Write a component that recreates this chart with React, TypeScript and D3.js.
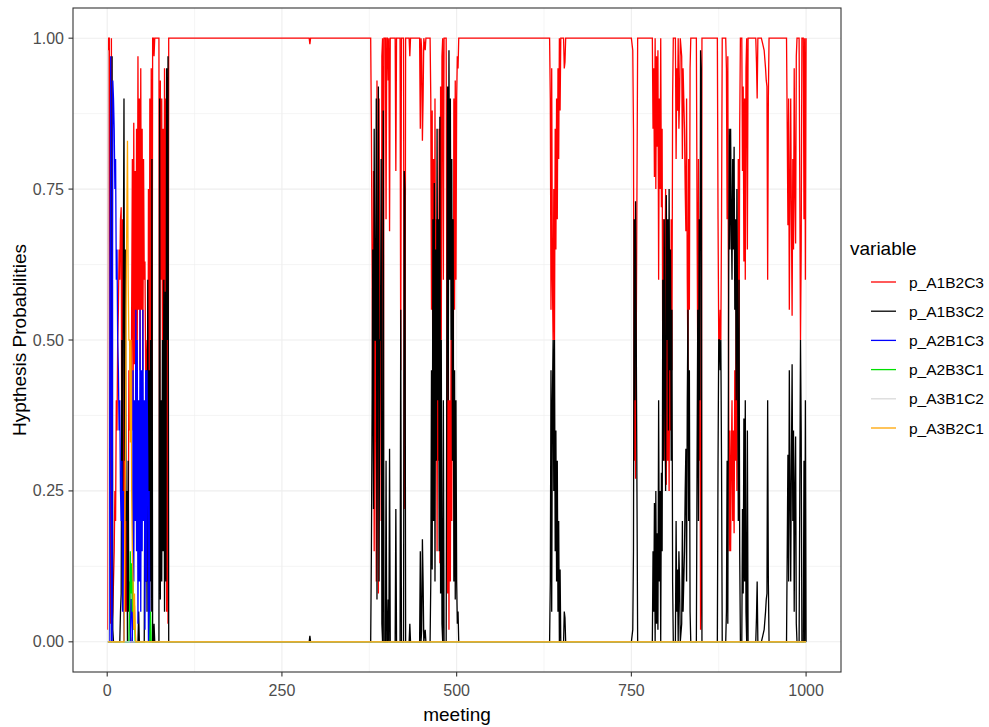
import React from "react";
import * as d3 from "d3";

// ---- Data ----
const seriesNames = ["p_A1B2C3", "p_A1B3C2", "p_A2B1C3", "p_A2B3C1", "p_A3B1C2", "p_A3B2C1"];
const seriesColors = ["#FF0000", "#000000", "#0000FF", "#00E000", "#DADADA", "#FFA500"];
const xTicks = [0, 250, 500, 750, 1000];
const xMinorTicks = [125, 375, 625, 875];
const yTicks = [0, 0.25, 0.5, 0.75, 1];
const yMinorTicks = [0.125, 0.375, 0.625, 0.875];
const yTickLabels = ["0.00", "0.25", "0.50", "0.75", "1.00"];
const meetingRange = [1, 1000];

// early meetings: [meeting, A1B2C3, A1B3C2, A2B1C3, A2B3C1, A3B1C2, A3B2C1]
const earlyRows: number[][] = [
  [1, 0.02, 0, 0, 0, 0.98, 0],
  [2, 1, 0, 0, 0, 0, 0],
  [3, 1, 0, 0, 0, 0, 0],
  [4, 0.4, 0, 0.6, 0, 0, 0],
  [5, 0.03, 0, 0.97, 0, 0, 0],
  [6, 1, 0, 0, 0, 0, 0],
  [7, 0.03, 0.97, 0, 0, 0, 0],
  [8, 0.05, 0.02, 0.93, 0, 0, 0],
  [9, 0.1, 0, 0.9, 0, 0, 0],
  [10, 0.15, 0, 0.85, 0, 0, 0],
  [11, 0.25, 0, 0.75, 0, 0, 0],
  [12, 0.2, 0, 0.8, 0, 0, 0],
  [13, 0.4, 0, 0.6, 0, 0, 0],
  [14, 0.35, 0, 0.65, 0, 0, 0],
  [15, 0.5, 0, 0.5, 0, 0, 0],
  [16, 0.55, 0, 0.45, 0, 0, 0],
  [17, 0.65, 0, 0.35, 0, 0, 0],
  [18, 0.6, 0, 0.4, 0, 0, 0],
  [19, 0.7, 0.05, 0.25, 0, 0, 0],
  [20, 0.72, 0.08, 0.2, 0, 0, 0],
  [21, 0.2, 0.5, 0.3, 0, 0, 0],
  [22, 0.7, 0.25, 0.05, 0, 0, 0],
  [23, 0.15, 0.6, 0.25, 0, 0, 0],
  [24, 0.1, 0.9, 0, 0, 0, 0],
  [25, 0.55, 0.3, 0, 0, 0, 0.15],
  [26, 0.05, 0.65, 0, 0, 0, 0.3],
  [27, 0.25, 0.2, 0, 0, 0, 0.55],
  [28, 0.05, 0.25, 0, 0, 0, 0.7],
  [29, 0.17, 0, 0, 0, 0, 0.83],
  [30, 0.1, 0.3, 0, 0, 0, 0.6],
  [31, 0.45, 0.05, 0, 0, 0, 0.5],
  [32, 0.35, 0.1, 0, 0.05, 0, 0.5],
  [33, 0.5, 0.02, 0, 0.15, 0, 0.33],
  [34, 0.35, 0, 0.07, 0.08, 0, 0.5],
  [35, 0.55, 0, 0.07, 0.13, 0, 0.25],
  [36, 0.8, 0, 0, 0.05, 0, 0.15],
  [37, 0.35, 0, 0.45, 0.1, 0, 0.1],
  [38, 0.86, 0, 0.1, 0.02, 0, 0.02],
  [39, 0.46, 0, 0.4, 0.06, 0, 0.08],
  [40, 0.78, 0, 0.2, 0, 0, 0.02],
  [41, 0.45, 0, 0.55, 0, 0, 0],
  [42, 0.85, 0, 0.15, 0, 0, 0],
  [43, 0.5, 0, 0.5, 0, 0, 0],
  [44, 0.97, 0, 0.03, 0, 0, 0],
  [45, 0.55, 0.05, 0.4, 0, 0, 0],
  [46, 0.9, 0, 0.1, 0, 0, 0],
  [47, 0.45, 0, 0.55, 0, 0, 0],
  [48, 0.95, 0, 0.05, 0, 0, 0],
  [49, 0.55, 0, 0.45, 0, 0, 0],
  [50, 0.85, 0, 0.15, 0, 0, 0],
  [51, 0.45, 0, 0.55, 0, 0, 0],
  [52, 0.8, 0, 0.2, 0, 0, 0],
  [53, 0.6, 0, 0.4, 0, 0, 0],
  [54, 0.63, 0.35, 0.02, 0, 0, 0],
  [55, 0.45, 0.1, 0.45, 0, 0, 0],
  [56, 0.45, 0.45, 0.1, 0, 0, 0],
  [57, 0.5, 0.05, 0.45, 0, 0, 0],
  [58, 0.1, 0.6, 0.3, 0, 0, 0],
  [59, 0.75, 0.25, 0, 0, 0, 0],
  [60, 0.3, 0.45, 0.25, 0, 0, 0],
  [61, 0.9, 0.1, 0, 0, 0, 0],
  [62, 0.45, 0.5, 0, 0.05, 0, 0],
  [63, 0.95, 0.05, 0, 0, 0, 0],
  [64, 0.2, 0.8, 0, 0, 0, 0],
  [65, 1, 0, 0, 0, 0, 0],
  [66, 1, 0, 0, 0, 0, 0],
  [67, 0.97, 0.03, 0, 0, 0, 0],
  [68, 1, 0, 0, 0, 0, 0],
  [74, 1, 0, 0, 0, 0, 0],
  [75, 0.1, 0.9, 0, 0, 0, 0],
  [76, 0.93, 0.07, 0, 0, 0, 0],
  [77, 0.6, 0.4, 0, 0, 0, 0],
  [78, 0.9, 0.1, 0, 0, 0, 0],
  [79, 0.5, 0.5, 0, 0, 0, 0],
  [80, 0.85, 0.15, 0, 0, 0, 0],
  [81, 0.4, 0.6, 0, 0, 0, 0],
  [82, 0.95, 0.05, 0, 0, 0, 0],
  [83, 0.42, 0.58, 0, 0, 0, 0],
  [84, 0.9, 0.1, 0, 0, 0, 0],
  [85, 0.05, 0.95, 0, 0, 0, 0],
  [86, 0.5, 0.5, 0, 0, 0, 0],
  [87, 0.03, 0.97, 0, 0, 0, 0],
  [88, 1, 0, 0, 0, 0, 0],
];

// later meetings: [meeting, A1B2C3, A1B3C2] (all other hypotheses stay at 0)
const laterRows: number[][] = [
  [100, 1, 0], [289, 1, 0], [290, 0.99, 0.01], [291, 1, 0], [377, 1, 0],
  [378, 0.85, 0.15], [379, 0.62, 0.38], [380, 0.35, 0.65], [381, 0.78, 0.22], [382, 0.15, 0.85],
  [383, 0.5, 0.5], [384, 0.5, 0.5], [385, 0.1, 0.9], [386, 0.93, 0.07], [387, 0.4, 0.6],
  [388, 0.08, 0.92], [389, 0.9, 0.1], [390, 0.5, 0.5], [391, 0.5, 0.5], [392, 0.2, 0.8],
  [393, 0.97, 0.03], [394, 1, 0], [395, 0.12, 0.88], [396, 1, 0], [398, 1, 0],
  [399, 0.7, 0.3], [400, 1, 0], [401, 1, 0], [402, 0.93, 0.07], [403, 1, 0],
  [404, 0.68, 0.32], [405, 1, 0], [412, 1, 0], [413, 0.78, 0.22], [414, 1, 0],
  [419, 1, 0], [420, 0.45, 0.55], [421, 1, 0], [424, 1, 0], [425, 0.22, 0.78],
  [426, 0.25, 0.75], [427, 1, 0], [432, 1, 0], [433, 0.97, 0.03], [434, 1, 0],
  [447, 1, 0], [448, 0.85, 0.15], [449, 1, 0], [450, 0.98, 0.02], [451, 0.83, 0.17],
  [452, 0.9, 0.1], [453, 1, 0], [455, 0.98, 0.02], [456, 1, 0], [462, 1, 0],
  [463, 0.9, 0.1], [464, 0.55, 0.45], [465, 0.88, 0.12], [466, 0.3, 0.7], [467, 0.8, 0.2],
  [468, 0.24, 0.76], [469, 0.9, 0.1], [470, 0.35, 0.65], [471, 0.7, 0.3], [472, 0.15, 0.85],
  [473, 0.6, 0.4], [474, 0.3, 0.7], [475, 0.85, 0.15], [476, 0.13, 0.87], [477, 0.92, 0.08],
  [478, 0.5, 0.5], [479, 0.97, 0.03], [480, 1, 0], [481, 0.6, 0.4], [482, 1, 0],
  [485, 1, 0], [486, 0.5, 0.5], [487, 0.08, 0.92], [488, 0.6, 0.4], [489, 0.02, 0.98],
  [490, 0.4, 0.6], [491, 0.1, 0.9], [492, 0.5, 0.5], [493, 0.2, 0.8], [494, 0.7, 0.3],
  [495, 0.3, 0.7], [496, 0.9, 0.1], [497, 0.55, 0.45], [498, 0.93, 0.07], [499, 0.6, 0.4],
  [500, 0.9, 0.1], [501, 0.97, 0.03], [502, 0.95, 0.05], [503, 1, 0],
  [633, 1, 0], [634, 0.9, 0.1], [635, 0.55, 0.45], [636, 0.95, 0.05], [637, 0.6, 0.4],
  [638, 0.5, 0.5], [639, 0.75, 0.25], [640, 0.5, 0.5], [641, 0.85, 0.15], [642, 0.65, 0.35],
  [643, 0.9, 0.1], [644, 0.7, 0.3], [645, 0.95, 0.05], [646, 0.8, 0.2], [647, 1, 0],
  [648, 0.88, 0.12], [649, 1, 0], [653, 1, 0], [654, 0.95, 0.05], [655, 0.96, 0.04], [656, 1, 0],
  [750, 1, 0], [752, 0.98, 0.02], [753, 0.85, 0.15], [754, 0.3, 0.7], [755, 0.6, 0.4],
  [756, 0.27, 0.73], [757, 0.5, 0.5], [758, 0.75, 0.25], [759, 1, 0], [780, 1, 0],
  [781, 0.85, 0.15], [782, 0.95, 0.05], [783, 0.77, 0.23], [784, 1, 0], [785, 0.75, 0.25],
  [786, 0.97, 0.03], [787, 0.82, 0.18], [788, 0.98, 0.02], [789, 0.6, 0.4], [790, 0.9, 0.1],
  [791, 0.75, 0.25], [792, 1, 0], [793, 0.72, 0.28], [794, 0.85, 0.15], [795, 0.4, 0.6],
  [796, 0.7, 0.3], [797, 0.3, 0.7], [798, 0.6, 0.4], [799, 0.75, 0.25], [800, 0.26, 0.74],
  [801, 0.5, 0.5], [802, 0.3, 0.7], [803, 0.65, 0.35], [804, 0.25, 0.75], [805, 0.55, 0.45],
  [806, 0.35, 0.65], [807, 0.7, 0.3], [808, 0.45, 0.55], [809, 0.9, 0.1], [810, 1, 0],
  [813, 1, 0], [814, 0.8, 0.2], [815, 0.95, 0.05], [816, 0.88, 0.12], [817, 1, 0],
  [818, 0.85, 0.15], [819, 0.9, 0.1], [820, 1, 0], [822, 0.97, 0.03], [823, 0.8, 0.2],
  [824, 0.95, 0.05], [825, 0.9, 0.1], [826, 0.85, 0.15], [827, 0.75, 0.25], [828, 0.68, 0.32],
  [829, 0.9, 0.1], [830, 0.6, 0.4], [831, 0.45, 0.55], [832, 0.8, 0.2], [833, 0.55, 0.45],
  [834, 0.95, 0.05], [835, 1, 0], [843, 1, 0], [844, 0.7, 0.3], [845, 0.45, 0.55],
  [846, 0.8, 0.2], [847, 0.3, 0.7], [848, 0.6, 0.4], [849, 0.02, 0.98], [850, 0.05, 0.95],
  [851, 1, 0], [873, 1, 0], [874, 0.7, 0.3], [875, 0.5, 0.5], [876, 0.5, 0.5],
  [877, 0.55, 0.45], [878, 0.5, 0.5], [879, 0.7, 0.3], [880, 1, 0], [885, 1, 0],
  [886, 0.95, 0.05], [887, 0.7, 0.3], [888, 0.97, 0.03], [889, 0.5, 0.5], [890, 0.15, 0.85],
  [891, 0.35, 0.65], [892, 0.15, 0.85], [893, 0.3, 0.7], [894, 0.4, 0.6], [895, 0.2, 0.8],
  [896, 0.35, 0.65], [897, 0.18, 0.82], [898, 0.45, 0.55], [899, 0.3, 0.7], [900, 0.6, 0.4],
  [901, 0.25, 0.75], [902, 0.5, 0.5], [903, 0.8, 0.2], [904, 0.4, 0.6], [905, 0.85, 0.15],
  [906, 1, 0], [908, 1, 0], [909, 0.78, 0.22], [910, 0.92, 0.08], [911, 0.63, 0.37],
  [912, 0.9, 0.1], [913, 0.6, 0.4], [914, 0.95, 0.05], [915, 1, 0], [916, 0.65, 0.35],
  [917, 1, 0], [928, 1, 0], [929, 0.96, 0.04], [930, 0.9, 0.1], [931, 1, 0],
  [936, 1, 0], [938, 0.99, 0.01], [940, 0.98, 0.02], [942, 0.95, 0.05], [943, 0.93, 0.07],
  [944, 0.92, 0.08], [945, 0.6, 0.4], [946, 0.9, 0.1], [947, 1, 0], [972, 1, 0],
  [973, 0.85, 0.15], [974, 0.69, 0.31], [975, 0.9, 0.1], [976, 0.55, 0.45], [977, 0.75, 0.25],
  [978, 0.9, 0.1], [979, 0.7, 0.3], [980, 0.54, 0.46], [981, 0.8, 0.2], [982, 0.65, 0.35],
  [983, 0.95, 0.05], [984, 0.75, 0.25], [985, 0.66, 0.34], [986, 0.97, 0.03], [987, 1, 0],
  [990, 1, 0], [991, 0.75, 0.25], [992, 0.5, 0.5], [993, 0.65, 0.35], [994, 1, 0],
  [996, 1, 0], [997, 0.7, 0.3], [998, 1, 0], [999, 0.6, 0.4], [1000, 1, 0],
];

type KP = [number, number];

function buildSeries(idx: number): KP[] {
  const pts: KP[] = earlyRows.map((r) => [r[0], r[idx + 1]] as KP);
  if (idx < 2) {
    laterRows.forEach((r) => pts.push([r[0], r[idx + 1]]));
  } else {
    pts.push([meetingRange[1], 0]);
  }
  return pts;
}

const W = 989;
const H = 727;
const panel = { left: 73, right: 841, top: 8, bottom: 672 };
const FONT = "'Liberation Sans', Arial, Helvetica, sans-serif";
const LW = 1.3;

export default function App() {
  const span = meetingRange[1] - meetingRange[0];
  const x = d3
    .scaleLinear()
    .domain([meetingRange[0] - 0.05 * span, meetingRange[1] + 0.05 * span])
    .range([panel.left, panel.right]);
  const y = d3.scaleLinear().domain([-0.05, 1.05]).range([panel.bottom, panel.top]);
  const line = d3
    .line<KP>()
    .x((d) => x(d[0]))
    .y((d) => y(d[1]));

  const series = seriesNames.map((name, i) => ({ name, color: seriesColors[i], pts: buildSeries(i) }));
  const cx = (panel.left + panel.right) / 2;
  const cy = (panel.top + panel.bottom) / 2;

  return (
    <svg
      width={W}
      height={H}
      style={{ position: "absolute", left: 0, top: 0, background: "#fff" }}
      fontFamily={FONT}
    >
      <rect x={0} y={0} width={W} height={H} fill="#fff" />
      <defs>
        <clipPath id="pclip">
          <rect x={panel.left} y={panel.top} width={panel.right - panel.left} height={panel.bottom - panel.top} />
        </clipPath>
      </defs>
      {/* grid */}
      {xMinorTicks.map((t) => (
        <line key={"xm" + t} x1={x(t)} x2={x(t)} y1={panel.top} y2={panel.bottom} stroke="#EEEEEE" strokeWidth={0.6} />
      ))}
      {yMinorTicks.map((t) => (
        <line key={"ym" + t} x1={panel.left} x2={panel.right} y1={y(t)} y2={y(t)} stroke="#EEEEEE" strokeWidth={0.6} />
      ))}
      {xTicks.map((t) => (
        <line key={"xg" + t} x1={x(t)} x2={x(t)} y1={panel.top} y2={panel.bottom} stroke="#EEEEEE" strokeWidth={1.1} />
      ))}
      {yTicks.map((t) => (
        <line key={"yg" + t} x1={panel.left} x2={panel.right} y1={y(t)} y2={y(t)} stroke="#EEEEEE" strokeWidth={1.1} />
      ))}
      {/* lines */}
      <g clipPath="url(#pclip)">
        {series.map((s) => (
          <path key={s.name} d={line(s.pts) || ""} fill="none" stroke={s.color} strokeWidth={LW} />
        ))}
      </g>
      {/* border */}
      <rect
        x={panel.left}
        y={panel.top}
        width={panel.right - panel.left}
        height={panel.bottom - panel.top}
        fill="none"
        stroke="#333333"
        strokeWidth={1.1}
      />
      {/* axes ticks */}
      {xTicks.map((t) => (
        <g key={"xt" + t}>
          <line x1={x(t)} x2={x(t)} y1={panel.bottom} y2={panel.bottom + 4.5} stroke="#333333" strokeWidth={1.1} />
          <text x={x(t)} y={panel.bottom + 18} textAnchor="middle" dominantBaseline="central" fontSize={16} fill="#4D4D4D">
            {t}
          </text>
        </g>
      ))}
      {yTicks.map((t, i) => (
        <g key={"yt" + t}>
          <line x1={panel.left - 4.5} x2={panel.left} y1={y(t)} y2={y(t)} stroke="#333333" strokeWidth={1.1} />
          <text x={panel.left - 9} y={y(t)} textAnchor="end" dominantBaseline="central" fontSize={16} fill="#4D4D4D">
            {yTickLabels[i]}
          </text>
        </g>
      ))}
      {/* titles */}
      <text x={cx} y={714} textAnchor="middle" dominantBaseline="central" fontSize={19} fill="#000">
        meeting
      </text>
      <text
        transform={`translate(19,${cy}) rotate(-90)`}
        textAnchor="middle"
        dominantBaseline="central"
        fontSize={19}
        fill="#000"
      >
        Hypthesis Probabilities
      </text>
      {/* legend */}
      <text x={850} y={248} dominantBaseline="central" fontSize={19} fill="#000">
        variable
      </text>
      {series.map((s, i) => (
        <g key={"lg" + s.name}>
          <line x1={871} x2={896} y1={282 + i * 29.2} y2={282 + i * 29.2} stroke={s.color} strokeWidth={LW} />
          <text x={909} y={282 + i * 29.2} dominantBaseline="central" fontSize={15.5} fill="#000">
            {s.name}
          </text>
        </g>
      ))}
    </svg>
  );
}
